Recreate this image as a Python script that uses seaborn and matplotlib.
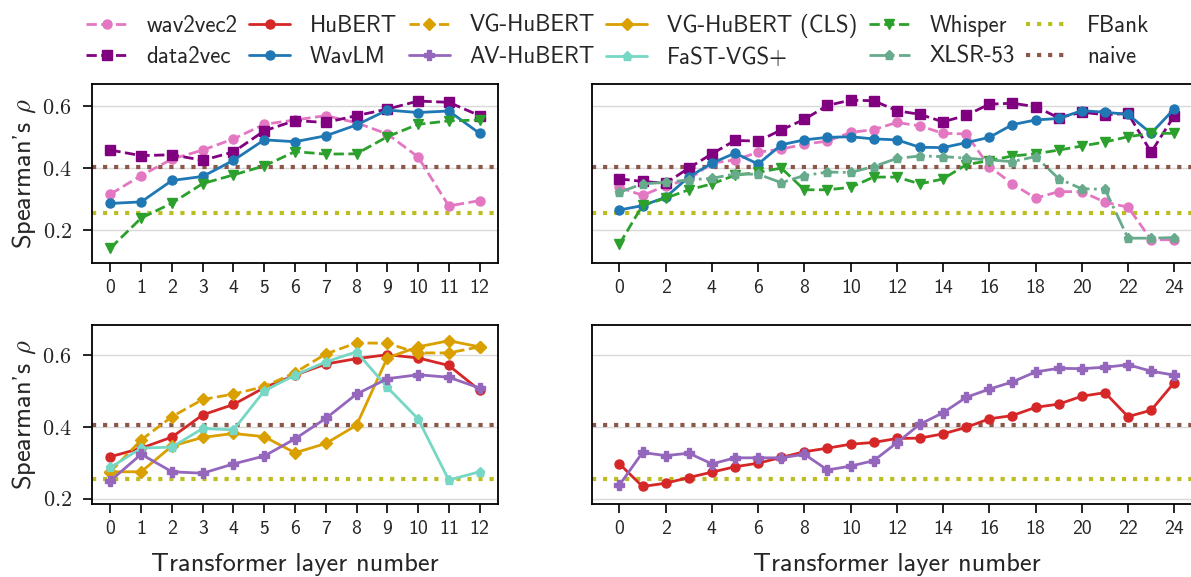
import matplotlib
matplotlib.use("Agg")
import matplotlib.pyplot as plt
import seaborn as sns
from matplotlib.ticker import FuncFormatter, MultipleLocator

# Layer indices
layers_12 = list(range(13))
layers_24 = list(range(25))

# Base-size models (12 transformer layers)
wav2vec2_12 = [0.316, 0.376, 0.429, 0.458, 0.494, 0.541, 0.555, 0.569, 0.546, 0.510, 0.436, 0.278, 0.295]
data2vec_12 = [0.458, 0.440, 0.443, 0.425, 0.452, 0.520, 0.553, 0.547, 0.569, 0.590, 0.616, 0.612, 0.569]
wavlm_12 = [0.286, 0.291, 0.360, 0.373, 0.425, 0.491, 0.485, 0.504, 0.539, 0.587, 0.579, 0.584, 0.512]
whisper_12 = [0.142, 0.239, 0.287, 0.350, 0.378, 0.407, 0.453, 0.445, 0.446, 0.501, 0.541, 0.552, 0.555]

# Large models (24 transformer layers)
wav2vec2_24 = [0.338, 0.312, 0.343, 0.364, 0.416, 0.426, 0.451, 0.461, 0.477, 0.487, 0.515, 0.524, 0.547,
               0.536, 0.512, 0.510, 0.405, 0.349, 0.303, 0.324, 0.324, 0.290, 0.274, 0.169, 0.169]
data2vec_24 = [0.365, 0.357, 0.351, 0.400, 0.446, 0.489, 0.487, 0.523, 0.557, 0.602, 0.619, 0.617, 0.585,
               0.573, 0.549, 0.570, 0.606, 0.609, 0.598, 0.562, 0.580, 0.572, 0.576, 0.451, 0.569]
wavlm_24 = [0.265, 0.279, 0.306, 0.371, 0.416, 0.448, 0.413, 0.475, 0.491, 0.499, 0.501, 0.494, 0.491,
            0.467, 0.466, 0.482, 0.499, 0.540, 0.555, 0.560, 0.585, 0.580, 0.573, 0.512, 0.591]
whisper_24 = [0.155, 0.280, 0.303, 0.330, 0.349, 0.377, 0.386, 0.400, 0.330, 0.330, 0.338, 0.371, 0.371,
              0.349, 0.365, 0.411, 0.424, 0.439, 0.446, 0.458, 0.471, 0.484, 0.501, 0.512, 0.512]
xlsr53_24 = [0.322, 0.349, 0.354, 0.362, 0.367, 0.381, 0.380, 0.353, 0.376, 0.387, 0.386, 0.405, 0.431,
             0.439, 0.437, 0.432, 0.426, 0.421, 0.437, 0.366, 0.333, 0.332, 0.174, 0.174, 0.176]

# HuBERT family (12 layers)
hubert_12 = [0.317, 0.341, 0.372, 0.434, 0.463, 0.510, 0.545, 0.576, 0.591, 0.602, 0.593, 0.572, 0.503]
vg_hubert_12 = [0.275, 0.364, 0.429, 0.477, 0.492, 0.513, 0.552, 0.604, 0.635, 0.634, 0.607, 0.607, 0.624]
vg_hubert_cls_12 = [0.275, 0.275, 0.347, 0.371, 0.382, 0.373, 0.328, 0.354, 0.405, 0.593, 0.624, 0.641, 0.624]
fast_vgs_12 = [0.287, 0.341, 0.344, 0.396, 0.392, 0.501, 0.545, 0.582, 0.610, 0.511, 0.423, 0.252, 0.275]
av_hubert_12 = [0.250, 0.324, 0.275, 0.271, 0.297, 0.319, 0.367, 0.424, 0.492, 0.535, 0.546, 0.539, 0.509]

# HuBERT family (24 layers)
hubert_24 = [0.297, 0.234, 0.243, 0.259, 0.274, 0.289, 0.299, 0.315, 0.331, 0.341, 0.352, 0.357, 0.368,
             0.369, 0.381, 0.399, 0.423, 0.432, 0.455, 0.464, 0.486, 0.496, 0.429, 0.447, 0.524]
av_hubert_24 = [0.238, 0.329, 0.320, 0.327, 0.297, 0.314, 0.314, 0.314, 0.324, 0.280, 0.291, 0.306, 0.356,
                0.408, 0.440, 0.483, 0.506, 0.526, 0.554, 0.564, 0.563, 0.567, 0.574, 0.556, 0.545]

# Baselines
fbank_score = 0.255
naive_score = 0.405

legend_order = ["wav2vec2", "data2vec", "HuBERT", "WavLM", "VG-HuBERT", "AV-HuBERT",
                "VG-HuBERT (CLS)", "FaST-VGS+", "Whisper", "XLSR-53", "FBank", "naive"]

styles = {
    "wav2vec2": dict(color="#e377c2", marker="o", ls="--"),
    "data2vec": dict(color="#800080", marker="s", ls="--"),
    "HuBERT": dict(color="#d62728", marker="o", ls="-"),
    "WavLM": dict(color="#1f77b4", marker="o", ls="-"),
    "VG-HuBERT": dict(color="#daa000", marker="D", ls="--"),
    "AV-HuBERT": dict(color="#9467bd", marker="P", ls="-"),
    "VG-HuBERT (CLS)": dict(color="#daa000", marker="D", ls="-"),
    "FaST-VGS+": dict(color="#76d7c4", marker="p", ls="-"),
    "Whisper": dict(color="#2ca02c", marker="v", ls="--"),
    "XLSR-53": dict(color="#67aa8c", marker="p", ls="-."),
}

sns.set_style("ticks")
plt.rcParams["font.family"] = ["cmss10", "DejaVu Sans"]
plt.rcParams["mathtext.fontset"] = "cm"
plt.rcParams["axes.linewidth"] = 1.3
plt.rcParams["axes.unicode_minus"] = False

fig = plt.figure(figsize=(11.91, 5.77), dpi=100)
W, H = 1191, 577


def make_axes(x0, x1, y0, y1):
    return fig.add_axes([x0 / W, 1 - y1 / H, (x1 - x0) / W, (y1 - y0) / H])


ax_tl = make_axes(92, 498, 84, 263)
ax_tr = make_axes(591.7, 1202, 84, 263)
ax_bl = make_axes(92, 498, 325, 504)
ax_br = make_axes(591.7, 1202, 325, 504)


def draw(ax, layers, values, name):
    st = styles[name]
    sns.lineplot(x=layers, y=values, ax=ax, color=st["color"], marker=st["marker"],
                 linestyle=st["ls"], linewidth=2, markersize=6.5, mec=st["color"],
                 mew=1, label=name, legend=False)


draw(ax_tl, layers_12, wav2vec2_12, "wav2vec2")
draw(ax_tl, layers_12, data2vec_12, "data2vec")
draw(ax_tl, layers_12, wavlm_12, "WavLM")
draw(ax_tl, layers_12, whisper_12, "Whisper")

draw(ax_tr, layers_24, wav2vec2_24, "wav2vec2")
draw(ax_tr, layers_24, data2vec_24, "data2vec")
draw(ax_tr, layers_24, wavlm_24, "WavLM")
draw(ax_tr, layers_24, whisper_24, "Whisper")
draw(ax_tr, layers_24, xlsr53_24, "XLSR-53")

draw(ax_bl, layers_12, hubert_12, "HuBERT")
draw(ax_bl, layers_12, vg_hubert_12, "VG-HuBERT")
draw(ax_bl, layers_12, vg_hubert_cls_12, "VG-HuBERT (CLS)")
draw(ax_bl, layers_12, fast_vgs_12, "FaST-VGS+")
draw(ax_bl, layers_12, av_hubert_12, "AV-HuBERT")

draw(ax_br, layers_24, hubert_24, "HuBERT")
draw(ax_br, layers_24, av_hubert_24, "AV-HuBERT")

for ax in (ax_tl, ax_tr, ax_bl, ax_br):
    ax.axhline(fbank_score, color="#bcbd22", ls=":", lw=3, label="FBank", zorder=1)
    ax.axhline(naive_score, color="#8c564b", ls=":", lw=3, label="naive", zorder=1)
    ax.yaxis.grid(True, color="#d9d9d9", lw=1)
    ax.set_axisbelow(True)
    ax.set_yticks([0.2, 0.4, 0.6])
    ax.yaxis.set_major_formatter(FuncFormatter(lambda v, p: f"${v:.1f}$"))
    ax.tick_params(axis="both", length=6.5, width=1.2, color="black")
    ax.tick_params(axis="x", labelsize=14.2, pad=5)
    ax.tick_params(axis="y", labelsize=16, pad=8)
    for sp in ax.spines.values():
        sp.set_color("black")

for ax in (ax_tl, ax_bl):
    ax.set_xlim(-0.6, 12.6)
    ax.xaxis.set_major_locator(MultipleLocator(1))
    ax.set_ylabel("Spearman's $\\rho$", fontsize=19, labelpad=3)
for ax in (ax_tr, ax_br):
    ax.set_xlim(-1.2, 25.2)
    ax.xaxis.set_major_locator(MultipleLocator(2))
    ax.tick_params(axis="y", labelleft=False, left=False)

for ax in (ax_tl, ax_tr):
    ax.set_ylim(0.094, 0.671)
for ax in (ax_bl, ax_br):
    ax.set_ylim(0.185, 0.685)
    ax.set_xlabel("Transformer layer number", fontsize=19, labelpad=11)

handles = {}
for ax in (ax_tl, ax_tr, ax_bl, ax_br):
    for h, lab in zip(*ax.get_legend_handles_labels()):
        handles.setdefault(lab, h)

fig.legend([handles[k] for k in legend_order], legend_order, loc="upper center",
           bbox_to_anchor=(0.5185, 1.012), ncol=6, frameon=False, fontsize=16.5,
           columnspacing=0.5, handletextpad=0.85, labelspacing=0.4, handlelength=1.8)

fig.savefig("out.png", dpi=100)
